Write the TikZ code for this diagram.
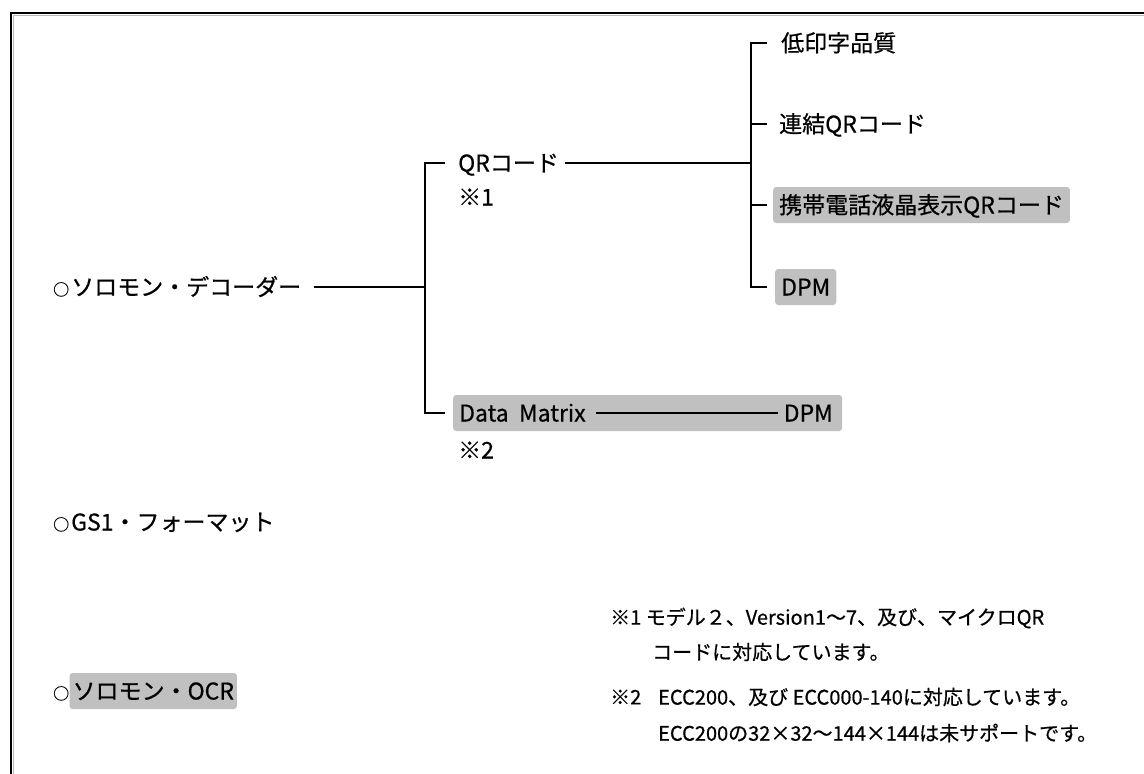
\documentclass[tikz,border=0pt]{standalone}
\usepackage{fontspec}
\setmainfont{Noto Sans CJK JP}[FakeBold=0.6]
\usetikzlibrary{positioning}
\definecolor{hlgray}{RGB}{192,192,192}
\newcommand{\mk}{{\fontsize{16}{16}\selectfont ○}\hspace{2pt}}

\begin{document}
\begin{tikzpicture}
        [x=1pt,y=-1pt,
        lbl/.style={anchor=west,inner xsep=0pt,inner ysep=2pt,text height=20pt,text depth=3pt,font=\fontsize{23}{28}\selectfont},
        hl/.style={lbl,fill=hlgray,rounded corners=3pt,inner xsep=6pt,minimum height=36pt},
        note/.style={anchor=west,inner sep=0pt,font=\fontsize{20}{24}\selectfont},
        link/.style={line width=1.8pt}]
        \useasboundingbox (0,0) rectangle (1144,774);
        %cornice
            \draw[line width=2pt] (11,774) -- (11,13) -- (1144,13);
            \draw[gray!55,line width=1pt] (13.5,774) -- (13.5,15.5) -- (1144,15.5);
        %voci principali
            \node (dec) [lbl] at (53,287) {\mk ソロモン・デコーダー};
            \node (gs1) [lbl] at (53,522) {\mk GS1・フォーマット};
            \node (ocrmark) [lbl] at (53,691) {\mk};
            \node (ocr) [hl,inner xsep=3pt,right=0pt of ocrmark] {ソロモン・OCR};
        %primo ramo
            \coordinate (forkA) at (425,287);
            \coordinate (forkAtop) at (425,163);
            \coordinate (forkAbot) at (425,413);
            \node (qr) [lbl] at (458,163) {QRコード};
            \node (qrnote) [lbl] at (458,197) {※1};
            \node (dmbox) [hl,minimum width=389pt] at (453,413) {};
            \node (dm) [lbl] at (459,413) {Data\ \ Matrix};
            \node (dmdpm) [lbl,anchor=east] at (833,413) {DPM};
            \node (dmnote) [lbl] at (458,450) {※2};
            \draw[link] ([xshift=13pt]dec.east) -- (forkA);
            \draw[link] ([xshift=-13pt]qr.west) -- (forkAtop) -- (forkAbot) -- ([xshift=-8pt]dmbox.west);
            \draw[link] ([xshift=10pt]dm.east) -- ([xshift=-6pt]dmdpm.west);
        %secondo ramo
            \coordinate (forkB) at (751,163);
            \coordinate (forkBtop) at (751,43);
            \coordinate (forkBbot) at (751,287);
            \node (lowq) [lbl] at (781,43) {低印字品質};
            \node (concat) [lbl] at (779,124) {連結QRコード};
            \node (mobile) [hl] at (773,205) {携帯電話液晶表示QRコード};
            \node (dpm) [hl] at (775,287) {DPM};
            \draw[link] ([xshift=6pt]qr.east) -- (forkB);
            \draw[link] ([xshift=-14pt]lowq.west) -- (forkBtop) -- (forkBbot) -- ([xshift=-8pt]dpm.west);
            \draw[link] ([xshift=-12pt]concat.west) -- (concat.west -| forkB);
            \draw[link] ([xshift=-6pt]mobile.west) -- (mobile.west -| forkB);
        %note
            \node (n1) [note] at (610,618) {※1 モデル２、Version1～7、及び、マイクロQR};
            \node (n1b) [note] at (652,652) {コードに対応しています。};
            \node (n2) [note] at (610,697) {※2};
            \node (n2a) [note] at (658,697) {ECC200、及び ECC000-140に対応しています。};
            \node (n2b) [note] at (658,733) {ECC200の32×32～144×144は未サポートです。};
    \end{tikzpicture}
\end{document}
